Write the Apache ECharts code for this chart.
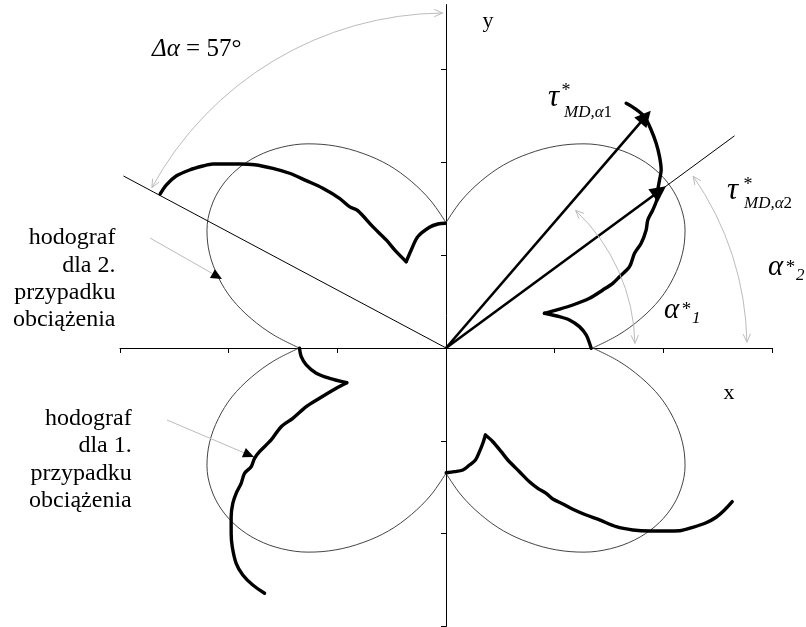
<!DOCTYPE html>
<html>
<head>
<meta charset="utf-8">
<title>Hodografy naprężeń stycznych</title>
<script src="https://cdn.jsdelivr.net/npm/echarts@6.0.0/dist/echarts.min.js"></script>
<style>
  html, body { margin: 0; padding: 0; background: #fff; }
  #chart { width: 806px; height: 627px; }
</style>
</head>
<body>
<div id="chart"></div>
<script>
// ---- axis ticks ----
const tickValuesX = [-3, -2, -1, 0, 1, 2, 3];
const tickValuesY = [-3, -2, -1, 1, 2, 3];

// ---- thin clover-shaped hodograph: radius against angle within one lobe (deg) ----
// all four lobes share the same profile
const lobeAngles = [0, 5, 10, 15, 20, 25, 30, 35, 40, 45, 50, 55, 60, 65, 70, 75, 80, 85, 90];
const lobeRadius = [1.35, 1.59, 1.82, 2.04, 2.23, 2.40, 2.54, 2.64, 2.70, 2.72,
                    2.70, 2.64, 2.54, 2.40, 2.23, 2.04, 1.82, 1.59, 1.35];

// ---- thick hodograph branches [x, y] ----
const hodoUpperLeft = [
  [-2.630, 1.660], [-2.575, 1.756], [-2.483, 1.853], [-2.360, 1.918], [-2.238, 1.961],
  [-2.146, 1.983], [-2.023, 1.983], [-1.900, 1.983], [-1.762, 1.975], [-1.594, 1.936],
  [-1.440, 1.883], [-1.286, 1.803], [-1.134, 1.721], [-0.980, 1.613], [-0.888, 1.523],
  [-0.812, 1.480], [-0.674, 1.307], [-0.550, 1.164], [-0.458, 1.038], [-0.366, 0.930],
  [-0.320, 1.056], [-0.260, 1.199], [-0.152, 1.301], [-0.075, 1.336], [-0.005, 1.344]
];
const hodoUpperRight = [
  [1.658, 2.637], [1.735, 2.583], [1.827, 2.492], [1.888, 2.349], [1.934, 2.206],
  [1.965, 2.062], [1.980, 1.918], [1.965, 1.810], [1.949, 1.703], [1.940, 1.595],
  [1.903, 1.487], [1.857, 1.379], [1.842, 1.272], [1.796, 1.128], [1.735, 1.020],
  [1.689, 0.876], [1.597, 0.768], [1.535, 0.697], [1.443, 0.625], [1.321, 0.535],
  [1.167, 0.463], [1.014, 0.409], [0.906, 0.374], [1.044, 0.337], [1.136, 0.302],
  [1.228, 0.230], [1.290, 0.140], [1.321, 0.051], [1.336, -0.003]
];
const hodoLowerLeft = [
  [-1.348, -0.003], [-1.332, -0.094], [-1.286, -0.183], [-1.194, -0.273], [-1.072, -0.327],
  [-0.913, -0.374], [-1.010, -0.434], [-1.164, -0.542], [-1.286, -0.633], [-1.410, -0.758],
  [-1.517, -0.848], [-1.609, -0.991], [-1.716, -1.117], [-1.762, -1.189], [-1.793, -1.279],
  [-1.854, -1.350], [-1.885, -1.458], [-1.931, -1.566], [-1.962, -1.674], [-1.977, -1.818],
  [-1.977, -1.997], [-1.967, -2.141], [-1.931, -2.320], [-1.870, -2.446], [-1.778, -2.554],
  [-1.670, -2.643]
];
const hodoLowerRight = [
  [0.002, -1.344], [0.078, -1.333], [0.155, -1.315], [0.216, -1.261], [0.271, -1.207],
  [0.308, -1.117], [0.339, -1.027], [0.363, -0.938], [0.431, -1.010], [0.508, -1.117],
  [0.569, -1.207], [0.676, -1.333], [0.768, -1.441], [0.845, -1.512], [0.922, -1.566],
  [0.983, -1.627], [1.075, -1.681], [1.167, -1.738], [1.290, -1.800], [1.413, -1.853],
  [1.566, -1.926], [1.719, -1.961], [1.873, -1.972], [2.026, -1.972], [2.149, -1.969],
  [2.271, -1.932], [2.394, -1.883], [2.486, -1.824], [2.563, -1.746], [2.634, -1.656]
];

// ---- vectors tau*_MD and the two reference directions ----
const tau1 = [1.836, 2.492];
const tau2 = [1.965, 1.692];
const lineLeftEnd = [-2.968, 1.853];
const lineRightEnd = [2.655, 2.286];

// -------------------------------------------------------------
const SERIF = '"Liberation Serif", "Times New Roman", Times, serif';
const GRAY = '#bcbcbc';

function lobePoints(q) {
  return lobeAngles.map((a, i) => {
    const t = (q * 90 + a) * Math.PI / 180;
    return [lobeRadius[i] * Math.cos(t), lobeRadius[i] * Math.sin(t)];
  });
}

const lobeSeries = [0, 1, 2, 3].map(q => ({
  type: 'line', data: lobePoints(q), symbol: 'none', showSymbol: false,
  smooth: 0.35, silent: true, z: 2,
  lineStyle: { color: '#444', width: 1 }
}));

// each branch has one sharp cusp; smooth the two pieces on either side of it separately
function indexOfCusp(data) {
  let best = 0, bestTurn = -1;
  for (let i = 1; i < data.length - 1; i++) {
    const ax = data[i][0] - data[i - 1][0], ay = data[i][1] - data[i - 1][1];
    const bx = data[i + 1][0] - data[i][0], by = data[i + 1][1] - data[i][1];
    const cos = (ax * bx + ay * by) / (Math.hypot(ax, ay) * Math.hypot(bx, by));
    const turn = 1 - cos;
    if (turn > bestTurn) { bestTurn = turn; best = i; }
  }
  return best;
}

function thickBranch(data) {
  const k = indexOfCusp(data);
  return [data.slice(0, k + 1), data.slice(k)].map(part => ({
    type: 'line', data: part, symbol: 'none', showSymbol: false, silent: true, z: 4,
    smooth: 0.3,
    lineStyle: { color: '#000', width: 3.4, join: 'round', cap: 'round' }
  }));
}

const chart = echarts.init(document.getElementById('chart'), null, { renderer: 'canvas' });

chart.setOption({
  animation: false,
  backgroundColor: '#fff',
  grid: { left: 120, top: 4.6, width: 652, height: 621.8, containLabel: false, outerBoundsMode: 'none' },
  xAxis: {
    type: 'value', min: -3, max: 3,
    axisLine: { show: true, onZero: true, lineStyle: { color: '#000', width: 1 } },
    axisTick: { show: true, length: 5, customValues: tickValuesX, lineStyle: { color: '#000', width: 1 } },
    axisLabel: { show: false }, splitLine: { show: false }
  },
  yAxis: {
    type: 'value', min: -3, max: 3.7,
    axisLine: { show: true, onZero: true, lineStyle: { color: '#000', width: 1 } },
    axisTick: { show: true, length: 5, customValues: tickValuesY, lineStyle: { color: '#000', width: 1 } },
    axisLabel: { show: false }, splitLine: { show: false }
  },
  series: [
    ...lobeSeries,
    ...thickBranch(hodoUpperLeft), ...thickBranch(hodoUpperRight),
    ...thickBranch(hodoLowerLeft), ...thickBranch(hodoLowerRight),
    {
      type: 'lines', coordinateSystem: 'cartesian2d', silent: true, z: 3,
      symbol: 'none',
      lineStyle: { color: '#000', width: 1, opacity: 1, curveness: 0 },
      data: [{ coords: [[0, 0], lineLeftEnd] }, { coords: [[0, 0], lineRightEnd] }]
    },
    {
      type: 'lines', coordinateSystem: 'cartesian2d', silent: true, z: 6,
      symbol: ['none', 'triangle'], symbolSize: 16, symbolOffset: [[0, 0], [0, 8]],
      lineStyle: { color: '#000', width: 2.6, opacity: 1, curveness: 0 },
      data: [{ coords: [[0, 0], tau1] }, { coords: [[0, 0], tau2] }]
    }
  ]
});

// ---- annotations ----
const O = chart.convertToPixel({ gridIndex: 0 }, [0, 0]);
const rad = d => d * Math.PI / 180;

function text(x, baseline, str, size, opt) {
  opt = opt || {};
  return {
    type: 'text', x, y: baseline - 0.3375 * size, silent: true, z: 100,
    style: {
      text: str, fontFamily: SERIF, fontSize: size,
      fontStyle: opt.italic ? 'italic' : 'normal',
      fill: '#000', align: opt.align || 'left', verticalAlign: 'middle',
      lineHeight: opt.lineHeight, rich: opt.rich
    }
  };
}

function chevron(tip, dir) {
  const L = 9, a = rad(24);
  const bx = -dir[0], by = -dir[1];
  const r1 = [bx * Math.cos(a) - by * Math.sin(a), bx * Math.sin(a) + by * Math.cos(a)];
  const r2 = [bx * Math.cos(-a) - by * Math.sin(-a), bx * Math.sin(-a) + by * Math.cos(-a)];
  return {
    type: 'polyline', silent: true, z: 50,
    shape: { points: [[tip[0] + L * r1[0], tip[1] + L * r1[1]], tip, [tip[0] + L * r2[0], tip[1] + L * r2[1]]] },
    style: { stroke: GRAY, fill: null, lineWidth: 1 }
  };
}

// double-headed angle arc around the origin, angles in degrees (counter-clockwise)
function angleArc(r, a0, a1) {
  const p0 = [O[0] + r * Math.cos(rad(a0)), O[1] - r * Math.sin(rad(a0))];
  const p1 = [O[0] + r * Math.cos(rad(a1)), O[1] - r * Math.sin(rad(a1))];
  return [
    {
      type: 'arc', silent: true, z: 50,
      shape: { cx: O[0], cy: O[1], r, startAngle: -rad(a1), endAngle: -rad(a0), clockwise: true },
      style: { stroke: GRAY, fill: null, lineWidth: 1 }
    },
    chevron(p0, [Math.sin(rad(a0)), Math.cos(rad(a0))]),
    chevron(p1, [-Math.sin(rad(a1)), -Math.cos(rad(a1))])
  ];
}

function pointer(from, tip) {
  const dx = tip[0] - from[0], dy = tip[1] - from[1];
  const len = Math.hypot(dx, dy), ux = dx / len, uy = dy / len;
  const base = [tip[0] - 11 * ux, tip[1] - 11 * uy];
  const nx = -uy * 5, ny = ux * 5;
  return [
    { type: 'line', silent: true, z: 50, shape: { x1: from[0], y1: from[1], x2: base[0], y2: base[1] },
      style: { stroke: GRAY, lineWidth: 1 } },
    { type: 'polygon', silent: true, z: 51,
      shape: { points: [tip, [base[0] + nx, base[1] + ny], [base[0] - nx, base[1] - ny]] },
      style: { fill: '#000', stroke: null } }
  ];
}

const italicRich = size => ({ i: { fontFamily: SERIF, fontSize: size, fontStyle: 'italic', fill: '#000' } });

const graphics = [
  ...angleArc(335, 90.6, 151.4),
  ...angleArc(189, 1.4, 46.7),
  ...angleArc(301, 1.1, 34.8),
  ...pointer([150, 238], [222, 279]),
  ...pointer([167, 420], [254, 457]),

  text(488, 28.5, 'y', 22, { align: 'center' }),
  text(729, 400.5, 'x', 22, { align: 'center' }),
  text(152, 58, '{i|Δα} = 57°', 25, { rich: italicRich(25) }),

  // tau*_MD,alpha1
  text(548, 108, 'τ', 31, { italic: true }),
  text(566, 97, '*', 18, { align: 'center' }),
  text(564, 118, '{i|MD,α}1', 17, { rich: italicRich(17) }),
  // tau*_MD,alpha2
  text(727, 201, 'τ', 31, { italic: true }),
  text(748, 191, '*', 18, { align: 'center' }),
  text(744, 209, '{i|MD,α}2', 17, { rich: italicRich(17) }),

  // alpha*_1, alpha*_2
  text(664, 320, 'α', 29, { italic: true }),
  text(686.5, 316, '*', 19, { align: 'center' }),
  text(692, 324, '1', 17, { italic: true }),
  text(768, 277, 'α', 29, { italic: true }),
  text(790.5, 274, '*', 19, { align: 'center' }),
  text(796, 281, '2', 17, { italic: true }),

  {
    type: 'text', x: 115.5, y: 224.3, silent: true, z: 100,
    style: { text: 'hodograf\ndla 2.\nprzypadku\nobciążenia', fontFamily: SERIF, fontSize: 24,
      lineHeight: 27.3, fill: '#000', align: 'right', verticalAlign: 'top' }
  },
  {
    type: 'text', x: 131.7, y: 405, silent: true, z: 100,
    style: { text: 'hodograf\ndla 1.\nprzypadku\nobciążenia', fontFamily: SERIF, fontSize: 24,
      lineHeight: 27.3, fill: '#000', align: 'right', verticalAlign: 'top' }
  }
];

chart.setOption({ graphic: graphics });
</script>
</body>
</html>
